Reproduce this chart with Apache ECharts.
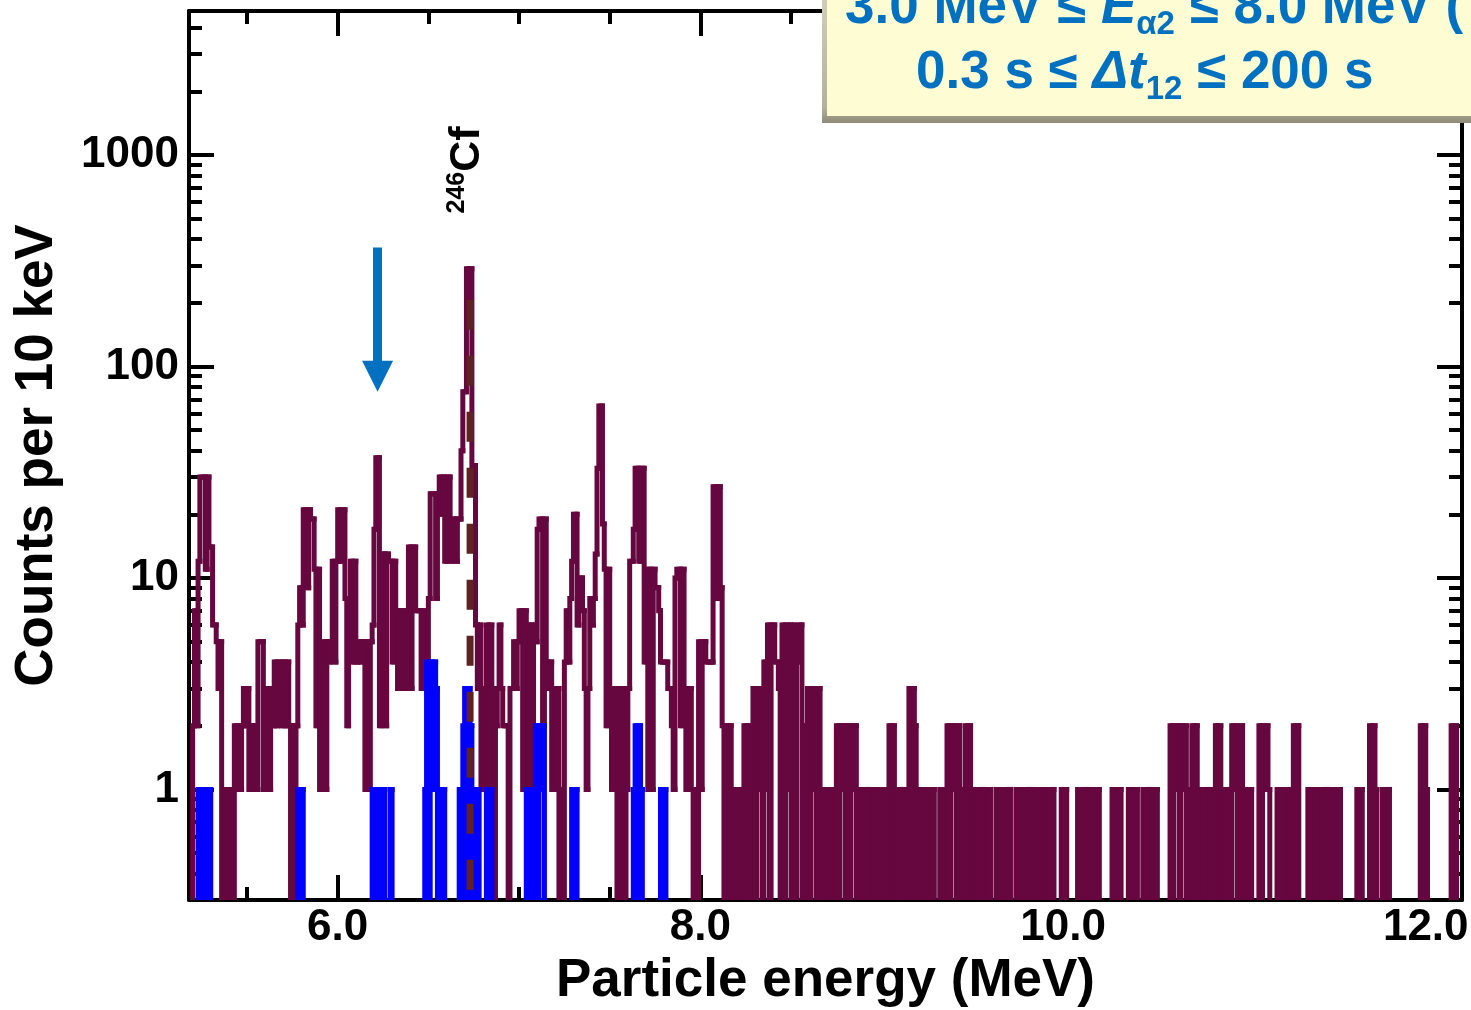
<!DOCTYPE html>
<html>
<head>
<meta charset="utf-8">
<script src="https://cdn.jsdelivr.net/npm/echarts@6/dist/echarts.min.js"></script>
<style>
html, body { margin: 0; padding: 0; background: #fff; }
#chart_spectrum { width: 1471px; height: 1010px; }
</style>
</head>
<body>
<div id="chart_spectrum"></div>
<script>
// 10 keV bins, first bin starts at 5.20 MeV
var firstBin = 5.20;
var binWidth = 0.01;

// counts per bin, one row = 0.1 MeV
var counts52 = [
    2, 7, 2, 12, 30, 30, 30, 11, 30, 14,
    14, 6, 6, 5, 3, 5, 0, 1, 0, 1,
    0, 1, 0, 2, 1, 2, 1, 2, 3, 2,
    3, 1, 2, 1, 2, 1, 5, 5, 5, 1,
    3, 3, 1, 3, 2, 4, 2, 4, 4, 2,
    4, 2, 4, 2, 0, 2, 0, 2, 6, 9,
    6, 21, 21, 9, 21, 19, 19, 11, 2, 11,
    1, 2, 5, 1, 5, 4, 5, 12, 4, 12
];
var counts60 = [
    21, 12, 21, 21, 8, 2, 8, 12, 4, 12,
    4, 5, 4, 5, 5, 1, 5, 1, 5, 6,
    17, 37, 37, 2, 13, 13, 2, 13, 12, 12,
    4, 12, 7, 3, 7, 3, 7, 7, 3, 14,
    3, 14, 14, 7, 7, 7, 3, 7, 3, 3,
    8, 25, 25, 25, 8, 25, 30, 20, 30, 12,
    30, 30, 12, 19, 19, 12, 19, 19, 40, 76,
    76, 290, 170, 290, 34, 34, 6, 3, 6, 1,
    3, 1, 6, 0, 6, 3, 0, 2, 3, 6,
    3, 2, 2, 2, 0, 3, 3, 5, 3, 5
];
var counts70 = [
    7, 7, 1, 7, 6, 1, 6, 1, 6, 5,
    17, 19, 19, 2, 19, 4, 3, 4, 1, 3,
    1, 3, 0, 1, 0, 4, 7, 4, 8, 12,
    20, 20, 6, 10, 10, 7, 3, 1, 3, 8,
    6, 8, 13, 33, 65, 65, 18, 11, 2, 11,
    3, 1, 3, 1, 0, 3, 0, 3, 0, 1,
    3, 12, 12, 17, 33, 33, 12, 33, 33, 4,
    11, 1, 11, 1, 11, 9, 9, 7, 4, 4,
    4, 4, 3, 3, 2, 1, 10, 11, 11, 2,
    11, 3, 1, 3, 3, 1, 0, 1, 0, 5
];
var counts80 = [
    1, 5, 5, 4, 4, 4, 4, 27, 27, 8,
    27, 9, 2, 0, 2, 0, 2, 1, 0, 1,
    0, 0, 1, 0, 2, 0, 2, 0, 2, 3,
    0, 3, 1, 3, 0, 4, 1, 6, 0, 6,
    6, 4, 4, 3, 0, 6, 0, 6, 1, 6,
    0, 6, 0, 4, 6, 6, 0, 2, 0, 3,
    0, 3, 1, 3, 0, 3, 0, 1, 0, 1,
    0, 1, 0, 1, 0, 2, 0, 2, 1, 2,
    0, 2, 0, 2, 1, 2, 0, 1, 0, 1,
    0, 1, 1, 0, 1, 0, 1, 0, 1, 0
];
var counts90 = [
    1, 0, 1, 0, 2, 0, 2, 0, 1, 0,
    1, 1, 0, 1, 0, 3, 0, 3, 2, 0,
    1, 0, 1, 0, 1, 0, 1, 0, 1, 0,
    0, 0, 1, 0, 1, 0, 2, 0, 2, 1,
    2, 0, 2, 0, 1, 0, 2, 0, 2, 0,
    1, 0, 1, 0, 1, 1, 0, 1, 0, 1,
    0, 0, 0, 1, 0, 1, 0, 1, 0, 1,
    1, 0, 0, 0, 1, 0, 1, 0, 1, 0,
    1, 1, 0, 1, 0, 1, 0, 1, 0, 1,
    0, 1, 0, 1, 1, 0, 0, 0, 0, 1
];
var counts100 = [
    0, 1, 0, 0, 0, 0, 0, 0, 1, 0,
    1, 0, 1, 1, 0, 1, 0, 1, 0, 1,
    0, 0, 0, 0, 0, 0, 0, 1, 0, 1,
    0, 1, 0, 0, 0, 0, 1, 0, 1, 0,
    1, 0, 0, 0, 1, 0, 1, 1, 0, 1,
    0, 1, 0, 0, 0, 0, 0, 0, 0, 2,
    0, 2, 1, 2, 0, 2, 1, 2, 0, 1,
    0, 2, 0, 2, 1, 0, 1, 0, 1, 1,
    0, 1, 0, 1, 2, 0, 2, 0, 1, 0,
    1, 1, 0, 2, 1, 2, 0, 0, 2, 1
];
var counts110 = [
    0, 1, 0, 1, 0, 0, 0, 0, 2, 0,
    2, 1, 2, 1, 0, 0, 0, 0, 1, 0,
    1, 0, 0, 1, 0, 1, 0, 2, 0, 2,
    0, 0, 0, 0, 0, 1, 0, 1, 0, 1,
    0, 0, 1, 0, 1, 1, 0, 0, 1, 0,
    1, 0, 1, 0, 0, 0, 0, 0, 0, 0,
    0, 0, 1, 0, 1, 0, 0, 0, 0, 2,
    0, 2, 1, 0, 0, 0, 1, 0, 1, 1,
    0, 0, 0, 0, 0, 0, 0, 0, 0, 0,
    0, 0, 0, 0, 0, 0, 0, 2, 0, 2
];
var counts120 = [
    1, 0, 0, 0, 0, 0, 0, 0, 0, 0,
    0, 0, 0, 0, 2, 0, 2, 0, 0, 0
];

// correlated events (blue), [energy of bin, counts]
var blueBins = [
    [5.23, 1], [5.25, 1], [5.27, 1], [5.29, 1],
    [5.78, 1], [5.80, 1],
    [6.19, 1], [6.21, 1], [6.23, 1], [6.25, 1], [6.29, 1],
    [6.48, 1], [6.49, 4], [6.51, 4], [6.52, 1], [6.53, 4], [6.54, 3], [6.56, 1], [6.58, 1],
    [6.67, 1], [6.69, 2], [6.70, 3], [6.72, 3], [6.73, 2], [6.75, 1], [6.77, 1],
    [6.82, 1], [6.84, 1],
    [7.04, 1], [7.06, 1], [7.09, 2], [7.11, 2], [7.12, 1], [7.13, 2],
    [7.29, 1], [7.31, 1],
    [7.63, 1], [7.64, 2], [7.66, 2], [7.67, 1],
    [7.78, 1], [7.80, 1]
];

var xMajorTicks = [6, 8, 10, 12];
var xMinorTicks = [5.5, 6.5, 7, 7.5, 8.5, 9, 9.5, 10.5, 11, 11.5];
var yMajorTicks = [1, 10, 100, 1000];
var yMinorTicks = [0.4, 0.5, 0.6, 0.7, 0.8, 0.9, 2, 3, 4, 5, 6, 7, 8, 9,
    20, 30, 40, 50, 60, 70, 80, 90, 200, 300, 400, 500, 600, 700, 800, 900,
    2000, 3000, 4000];

// annotations
var cfEnergy = 6.73;      // 246Cf line
var cfTop = 207;
var arrowEnergy = 6.22;
var arrowFrom = 365;
var arrowTo = 90;

var fontFamily = '"Liberation Sans", Arial, Helvetica, sans-serif';
var maroon = '#66073f';
var blue = '#0000ff';
var histWidth = 5;

var counts = [].concat(counts52, counts60, counts70, counts80, counts90, counts100, counts110, counts120);
var blueCounts = counts.map(function () { return 0; });
blueBins.forEach(function (b) {
    blueCounts[Math.round((b[0] - firstBin) / binWidth)] = b[1];
});

function buildSteps(arr) {
    return arr.map(function (c, i) {
        var lo = +(firstBin + i * binWidth).toFixed(2);
        return [lo, +(lo + binWidth).toFixed(2), c, i > 0 ? arr[i - 1] : 0];
    });
}

function stepRenderer(color) {
    return function (params, api) {
        var c = api.value(2), p = api.value(3);
        if (c <= 0 && p <= 0) {
            return;
        }
        var cs = params.coordSys;
        var floor = cs.y + cs.height + 10;
        var xl = api.coord([api.value(0), 1])[0];
        var xr = api.coord([api.value(1), 1])[0];
        var yc = c > 0 ? api.coord([api.value(0), c])[1] : floor;
        var yp = p > 0 ? api.coord([api.value(0), p])[1] : floor;
        return {
            type: 'polyline',
            shape: {points: [[xl, yp], [xl, yc], [xr, yc]]},
            style: {stroke: color, fill: 'none', lineWidth: histWidth, lineCap: 'square', lineJoin: 'miter'}
        };
    };
}

var tickLabel = {fontFamily: fontFamily, fontWeight: 'bold', fontSize: 44, color: '#000'};
var nameStyle = {fontFamily: fontFamily, fontWeight: 'bold', fontSize: 53, color: '#000'};
var blackLine = {color: '#000', width: 4};

function xAxisDef(position, ticks, len, main) {
    return {
        type: 'value', position: position, min: 5.18, max: 12.2,
        axisLine: {show: main, onZero: false, lineStyle: blackLine},
        axisTick: {show: true, inside: true, length: len, customValues: ticks, lineStyle: blackLine},
        axisLabel: position === 'bottom' && main ? Object.assign({
            customValues: ticks, margin: 6,
            formatter: function (v) { return v.toFixed(1); }
        }, tickLabel) : {show: false},
        splitLine: {show: false},
        name: position === 'bottom' && main ? 'Particle energy (MeV)' : '',
        nameLocation: 'middle', nameGap: 55, nameTextStyle: nameStyle
    };
}
function yAxisDef(position, ticks, len, main) {
    return {
        type: 'log', logBase: 10, position: position, min: 0.3, max: 4800,
        axisLine: {show: main, onZero: false, lineStyle: blackLine},
        axisTick: {show: true, inside: true, length: len, customValues: ticks, lineStyle: blackLine},
        axisLabel: position === 'left' && main ? Object.assign({
            customValues: ticks, margin: 10,
            formatter: function (v) { return String(Math.round(v)); }
        }, tickLabel) : {show: false},
        minorTick: {show: false},
        splitLine: {show: false},
        name: position === 'left' && main ? 'Counts per 10 keV' : '',
        nameLocation: 'middle', nameGap: 125, nameTextStyle: nameStyle
    };
}

var chart_spectrum = echarts.init(document.getElementById('chart_spectrum'));
var option = {
    backgroundColor: '#fff',
    animation: false,
    grid: {left: 189, right: 9, top: 11, bottom: 110, containLabel: false, outerBoundsMode: 'none'},
    xAxis: [
        xAxisDef('bottom', xMajorTicks, 25, true),
        xAxisDef('bottom', xMinorTicks, 13, false),
        xAxisDef('top', xMajorTicks, 25, true),
        xAxisDef('top', xMinorTicks, 13, false)
    ],
    yAxis: [
        yAxisDef('left', yMajorTicks, 25, true),
        yAxisDef('left', yMinorTicks, 13, false),
        yAxisDef('right', yMajorTicks, 25, true),
        yAxisDef('right', yMinorTicks, 13, false)
    ],
    series: [
        {
            type: 'custom', name: 'all',
            renderItem: stepRenderer(maroon),
            data: buildSteps(counts),
            encode: {x: [0, 1], y: 2},
            clip: true, silent: true, z: 2
        },
        {
            type: 'custom', name: 'correlated',
            renderItem: stepRenderer(blue),
            data: buildSteps(blueCounts),
            encode: {x: [0, 1], y: 2},
            clip: true, silent: true, z: 3
        },
        {
            type: 'line', name: '246Cf',
            data: [[cfEnergy, cfTop], [cfEnergy, 0.3]],
            symbol: 'none', silent: true, z: 4,
            lineStyle: {color: '#5e2222', width: 7, type: [30, 26]},
            markLine: {
                silent: true,
                symbol: ['none', 'triangle'],
                symbolSize: 31,
                label: {show: false},
                lineStyle: {color: '#0070c0', width: 9, type: 'solid'},
                data: [[{coord: [arrowEnergy, arrowFrom]}, {coord: [arrowEnergy, arrowTo]}]]
            }
        }
    ]
};
chart_spectrum.setOption(option);

var cfPos = chart_spectrum.convertToPixel({xAxisIndex: 0, yAxisIndex: 0}, [6.712, 850]);
var boxFont = {fontFamily: fontFamily, fontWeight: 'bold', fontSize: 53};
chart_spectrum.setOption({
    graphic: [
        {
            type: 'text', x: cfPos[0], y: cfPos[1], rotation: Math.PI / 2, z: 50,
            style: {
                text: '{s|246}{b|Cf}', align: 'center', verticalAlign: 'middle', fill: '#000',
                rich: {
                    s: {fontFamily: fontFamily, fontWeight: 'bold', fontSize: 25, padding: [0, 0, 20, 0]},
                    b: {fontFamily: fontFamily, fontWeight: 'bold', fontSize: 43}
                }
            }
        },
        {
            type: 'rect', z: 100,
            shape: {x: 822, y: -30, width: 700, height: 153},
            style: {fill: {type: 'linear', x: 0, y: 0, x2: 0, y2: 1, colorStops: [
                {offset: 0, color: '#d8d6bd'}, {offset: 0.9, color: '#b3b19a'}, {offset: 1, color: '#8d8b78'}]}}
        },
        {
            type: 'rect', z: 101,
            shape: {x: 827, y: -30, width: 700, height: 146},
            style: {fill: '#fdfcd3'}
        },
        {
            type: 'text', z: 102, x: 845, y: 8,
            style: Object.assign({
                text: '3.0 MeV ≤ {it|E}{sub|α2} ≤ 8.0 MeV (',
                verticalAlign: 'middle', fill: '#0070c0',
                rich: {
                    it: Object.assign({fontStyle: 'italic'}, boxFont),
                    sub: {fontFamily: fontFamily, fontWeight: 'bold', fontSize: 33, padding: [34, 0, 0, 0]}
                }
            }, boxFont)
        },
        {
            type: 'text', z: 102, x: 916, y: 73,
            style: Object.assign({
                text: '0.3 s ≤ {it|Δt}{sub|12} ≤ 200 s',
                verticalAlign: 'middle', fill: '#0070c0',
                rich: {
                    it: Object.assign({fontStyle: 'italic'}, boxFont),
                    sub: {fontFamily: fontFamily, fontWeight: 'bold', fontSize: 33, padding: [34, 0, 0, 0]}
                }
            }, boxFont)
        }
    ]
});
</script>
</body>
</html>
